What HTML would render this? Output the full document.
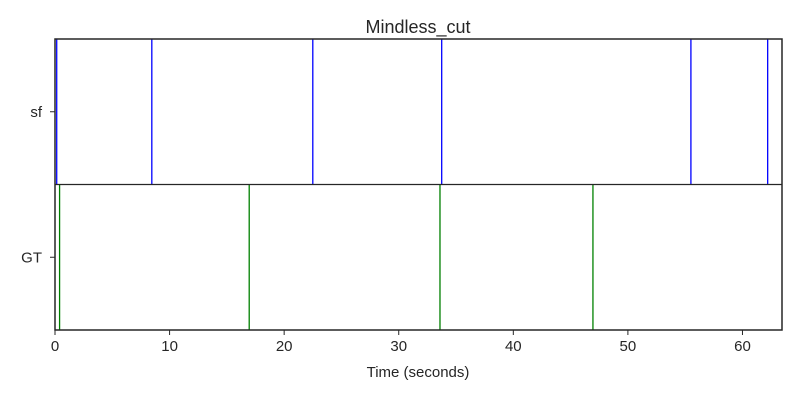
<!DOCTYPE html>
<html><head><meta charset="utf-8"><style>
body{margin:0;background:#fff}
svg text{font-family:"Liberation Sans",sans-serif;fill:#262626}
</style></head><body>
<svg id="chart" width="800" height="400" xmlns="http://www.w3.org/2000/svg">
<text x="418" y="33" font-size="18" text-anchor="middle">Mindless_cut</text>
<g id="marks"></g>
<g id="axes"></g>
<text x="418" y="377" font-size="15" text-anchor="middle">Time (seconds)</text>
</svg>
<script>
const rows = ["sf", "GT"];
const sfTimes = [0.15, 8.45, 22.5, 33.75, 55.5, 62.2];
const gtTimes = [0.4, 16.95, 33.6, 46.95];
const xTicks = [0, 10, 20, 30, 40, 50, 60];
const xMax = 63.45;
const L=55, R=782, T=39, B=330, M=(T+B)/2;
const NS="http://www.w3.org/2000/svg";
const xs = v => L + v/xMax*(R-L);
function mk(tag, attrs, parent){const e=document.createElementNS(NS,tag);for(const k in attrs)e.setAttribute(k,attrs[k]);parent.appendChild(e);return e;}
const marks=document.getElementById('marks'), axes=document.getElementById('axes');
const series=[[sfTimes,T,M,'#0000ff'],[gtTimes,M,B,'#008000']];
series.forEach(([arr,y0,y1,c],si)=>arr.forEach(v=>{
  const l=mk('line',{x1:xs(v),x2:xs(v),y1:y0,y2:y1,stroke:c,'stroke-width':1.3},marks);
  
  
}));
const frame=mk('rect',{x:L,y:T,width:R-L,height:B-T,fill:'none',stroke:'#262626','stroke-width':1.5},axes);


const div=mk('line',{x1:L,x2:R,y1:M,y2:M,stroke:'#262626','stroke-width':1.3},axes);


xTicks.forEach(v=>{
  const t=mk('line',{x1:xs(v),x2:xs(v),y1:B,y2:B+5,stroke:'#262626'},axes);
  
  
  const tx=mk('text',{x:xs(v),y:B+21,'font-size':15,'text-anchor':'middle'},axes);
  tx.textContent=v;
  
  
});
rows.forEach((r,i)=>{
  const y=i===0?(T+M)/2:(M+B)/2;
  const t=mk('line',{x1:L-5,x2:L,y1:y,y2:y,stroke:'#262626'},axes);
  
  
  const tx=mk('text',{x:L-13,y:y+5,'font-size':15,'text-anchor':'end'},axes);
  tx.textContent=r;
  
  
});
</script>
</body></html>
